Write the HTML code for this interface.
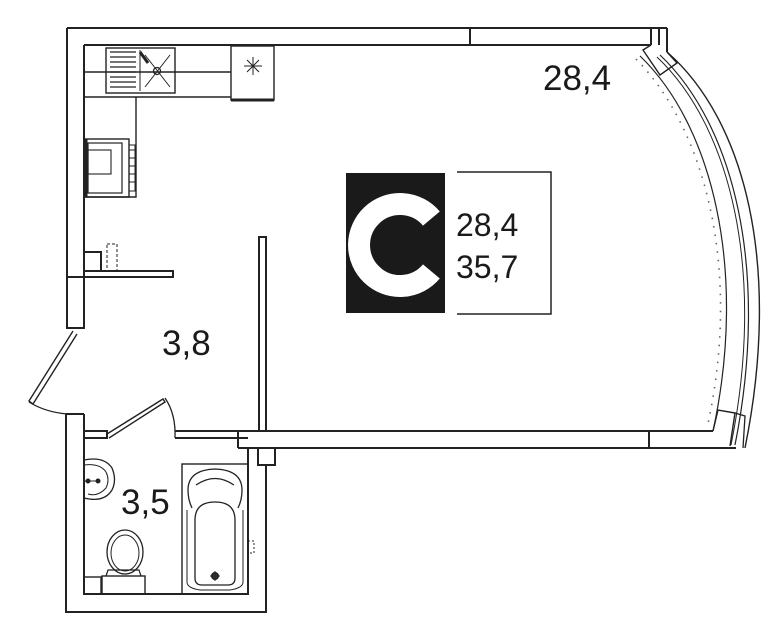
<!DOCTYPE html>
<html><head><meta charset="utf-8"><style>
html,body{margin:0;padding:0;background:#fff;}
svg{display:block;}
text{font-family:"Liberation Sans",sans-serif;fill:#1a1a1a;}
</style></head><body>
<svg width="782" height="640" viewBox="0 0 782 640" xmlns="http://www.w3.org/2000/svg">
<g fill="none" stroke="#222" stroke-width="2">
<!-- top wall -->
<path d="M67,28 H667 M84,45 H651 M470,28 V45 M651,28 V45 M659,28 V45 M667,28 V52"/>
<!-- left wall -->
<path d="M67,28 V328 H84 V45 M67,277 H84"/>
<!-- entry door -->
<path d="M73,331 L29,401 L33,404 L77,334" stroke-width="1.4"/>
<path d="M29,402 Q45,412 67,414" stroke-width="1.3"/>
<!-- bathroom walls -->
<path d="M66,414 V612 H266 V465 M84,414 V594 H248 V449 M66,414 H84"/>
<path d="M84,431 H107 V438 H84 M175,431 H238 M175,438 H248"/>
<path d="M107,434 L163,399 L165,402 L109,438" stroke-width="1.4"/>
<path d="M165,398 Q176,414 175,438" stroke-width="1.3"/>
<!-- main bottom wall -->
<path d="M238,431 H713 M238,448 H736 M238,431 V448 M649,431 V448"/>
<rect x="258" y="448" width="17" height="17"/>
<!-- partition -->
<rect x="259" y="237" width="7" height="194"/>
<!-- shelf -->
<path d="M84,271 H173 V277 H84 M84,252 H101 V271"/>
<rect x="107" y="244" width="10" height="27" stroke-dasharray="3,2" stroke-width="1"/>
<!-- kitchen counter -->
<path d="M84,97 H136 V197 H84 M84,72 H231 M136,97 H231" stroke-width="1.4"/>
<rect x="106" y="48" width="69" height="45" stroke-width="1.4"/>
<path d="M140,50 V91" stroke-width="1"/>
<path d="M110,52 H136 M110,57 H136 M110,62 H136 M110,67 H136 M110,72 H136 M110,77 H136 M110,82 H136 M110,87 H136" stroke-width="1.2"/>
<path d="M145,55 L170,87 M170,55 L145,87" stroke-width="1"/>
<circle cx="157" cy="71" r="3.5" stroke-width="1.3"/>
<path d="M140,52 L148,63" stroke-width="3"/>
<rect x="231" y="46" width="43" height="54" stroke-width="1.4"/>
<path d="M231,100 H274" stroke-width="3"/>
<path d="M244,66 H262 M253,57 V75 M247,60 L259,72 M259,60 L247,72" stroke-width="1"/>
<!-- stove -->
<rect x="84" y="139" width="45" height="58" stroke-width="1.4"/>
<rect x="88" y="143" width="34" height="50" stroke-width="1.2"/>
<rect x="88" y="150" width="23" height="24" stroke-width="1.1"/>
<rect x="129" y="145" width="6" height="46" stroke-width="1"/>
<path d="M129,150 H135 M129,158 H135 M129,166 H135 M129,174 H135 M129,182 H135" stroke-width="1"/>
<path d="M86,139 V197" stroke-width="3"/>
<!-- arc facade -->
<path d="M667,52 C745,120 782,265 745,448" stroke-width="1.4"/>
<path d="M660,55 C734,125 770,270 735,445" stroke-width="1.2"/>
<path d="M657,57 C731,127 766,272 731,445" stroke-width="1"/>
<path d="M640,56 C712,125 748,270 713,431" stroke-width="1.2"/>
<path d="M636,59 C706,130 742,272 707,428" stroke-width="1.6" stroke-dasharray="1.5,7" stroke="#666"/>
<path d="M651,45 L643,50 L660,75 L677,63 L667,52" stroke-width="1.4"/>
<path d="M713,431 L718,410 L735,413 L730,446" stroke-width="1.4"/>
<path d="M735,413 L745,416 L743,448" stroke-width="1.3"/>
<!-- bathroom fixtures -->
<path d="M84,460 Q104,456 112,468 Q117,480 112,490 Q104,503 84,498" stroke-width="1.3"/>
<path d="M84,465 Q100,463 106,472 Q110,480 106,488 Q98,497 88,494" stroke-width="1"/>
<path d="M85,481 H99" stroke-width="1"/>
<circle cx="88" cy="481" r="1.5"/><circle cx="98" cy="481" r="1.5"/>
<rect x="84" y="577" width="17" height="17" stroke-width="1.4"/>
<rect x="102" y="576" width="43" height="18" stroke-width="1.4"/>
<path d="M106,576 L108,570 H139 L141,576" stroke-width="1.2"/>
<ellipse cx="125" cy="552" rx="18" ry="22" stroke-width="1.3"/>
<ellipse cx="125" cy="553" rx="14" ry="18" stroke-width="1"/>
<rect x="182" y="464" width="66" height="130" stroke-width="1.4"/>
<path d="M188,490 Q188,470 215,469 Q242,470 242,490 Q242,500 238,508 M188,490 Q188,500 192,508" stroke-width="1.3"/>
<path d="M196,485 Q215,472 234,485" stroke-width="1.3"/>
<path d="M195,520 Q195,502 215,502 Q235,502 235,520 V578 Q235,585 228,585 H202 Q195,585 195,578 Z" stroke-width="1.3"/>
<path d="M187,510 V582 Q187,588 200,590 H230 Q243,588 243,582 V510" stroke-width="1"/>
<circle cx="215" cy="576" r="3" fill="#444"/>
<path d="M210,576 H220 M215,571 V581" stroke-width="1"/>
<rect x="248" y="541" width="6" height="12" stroke-dasharray="2,2" stroke-width="1"/>
<!-- legend box -->
<path d="M457,172 H551 V314 H457" stroke-width="1.5"/>
</g>
<rect x="346" y="173" width="99" height="140" fill="#1a1a1a"/>
<path d="M431.4,218.6 A41,41 0 1 0 431.4,271.4" fill="none" stroke="#fff" stroke-width="22"/>
<text x="456" y="236" font-size="32">28,4</text>
<text x="456" y="278" font-size="32">35,7</text>
<text x="543" y="90" font-size="35">28,4</text>
<text x="162" y="355" font-size="35">3,8</text>
<text x="121" y="514" font-size="35">3,5</text>
</svg>
</body></html>
